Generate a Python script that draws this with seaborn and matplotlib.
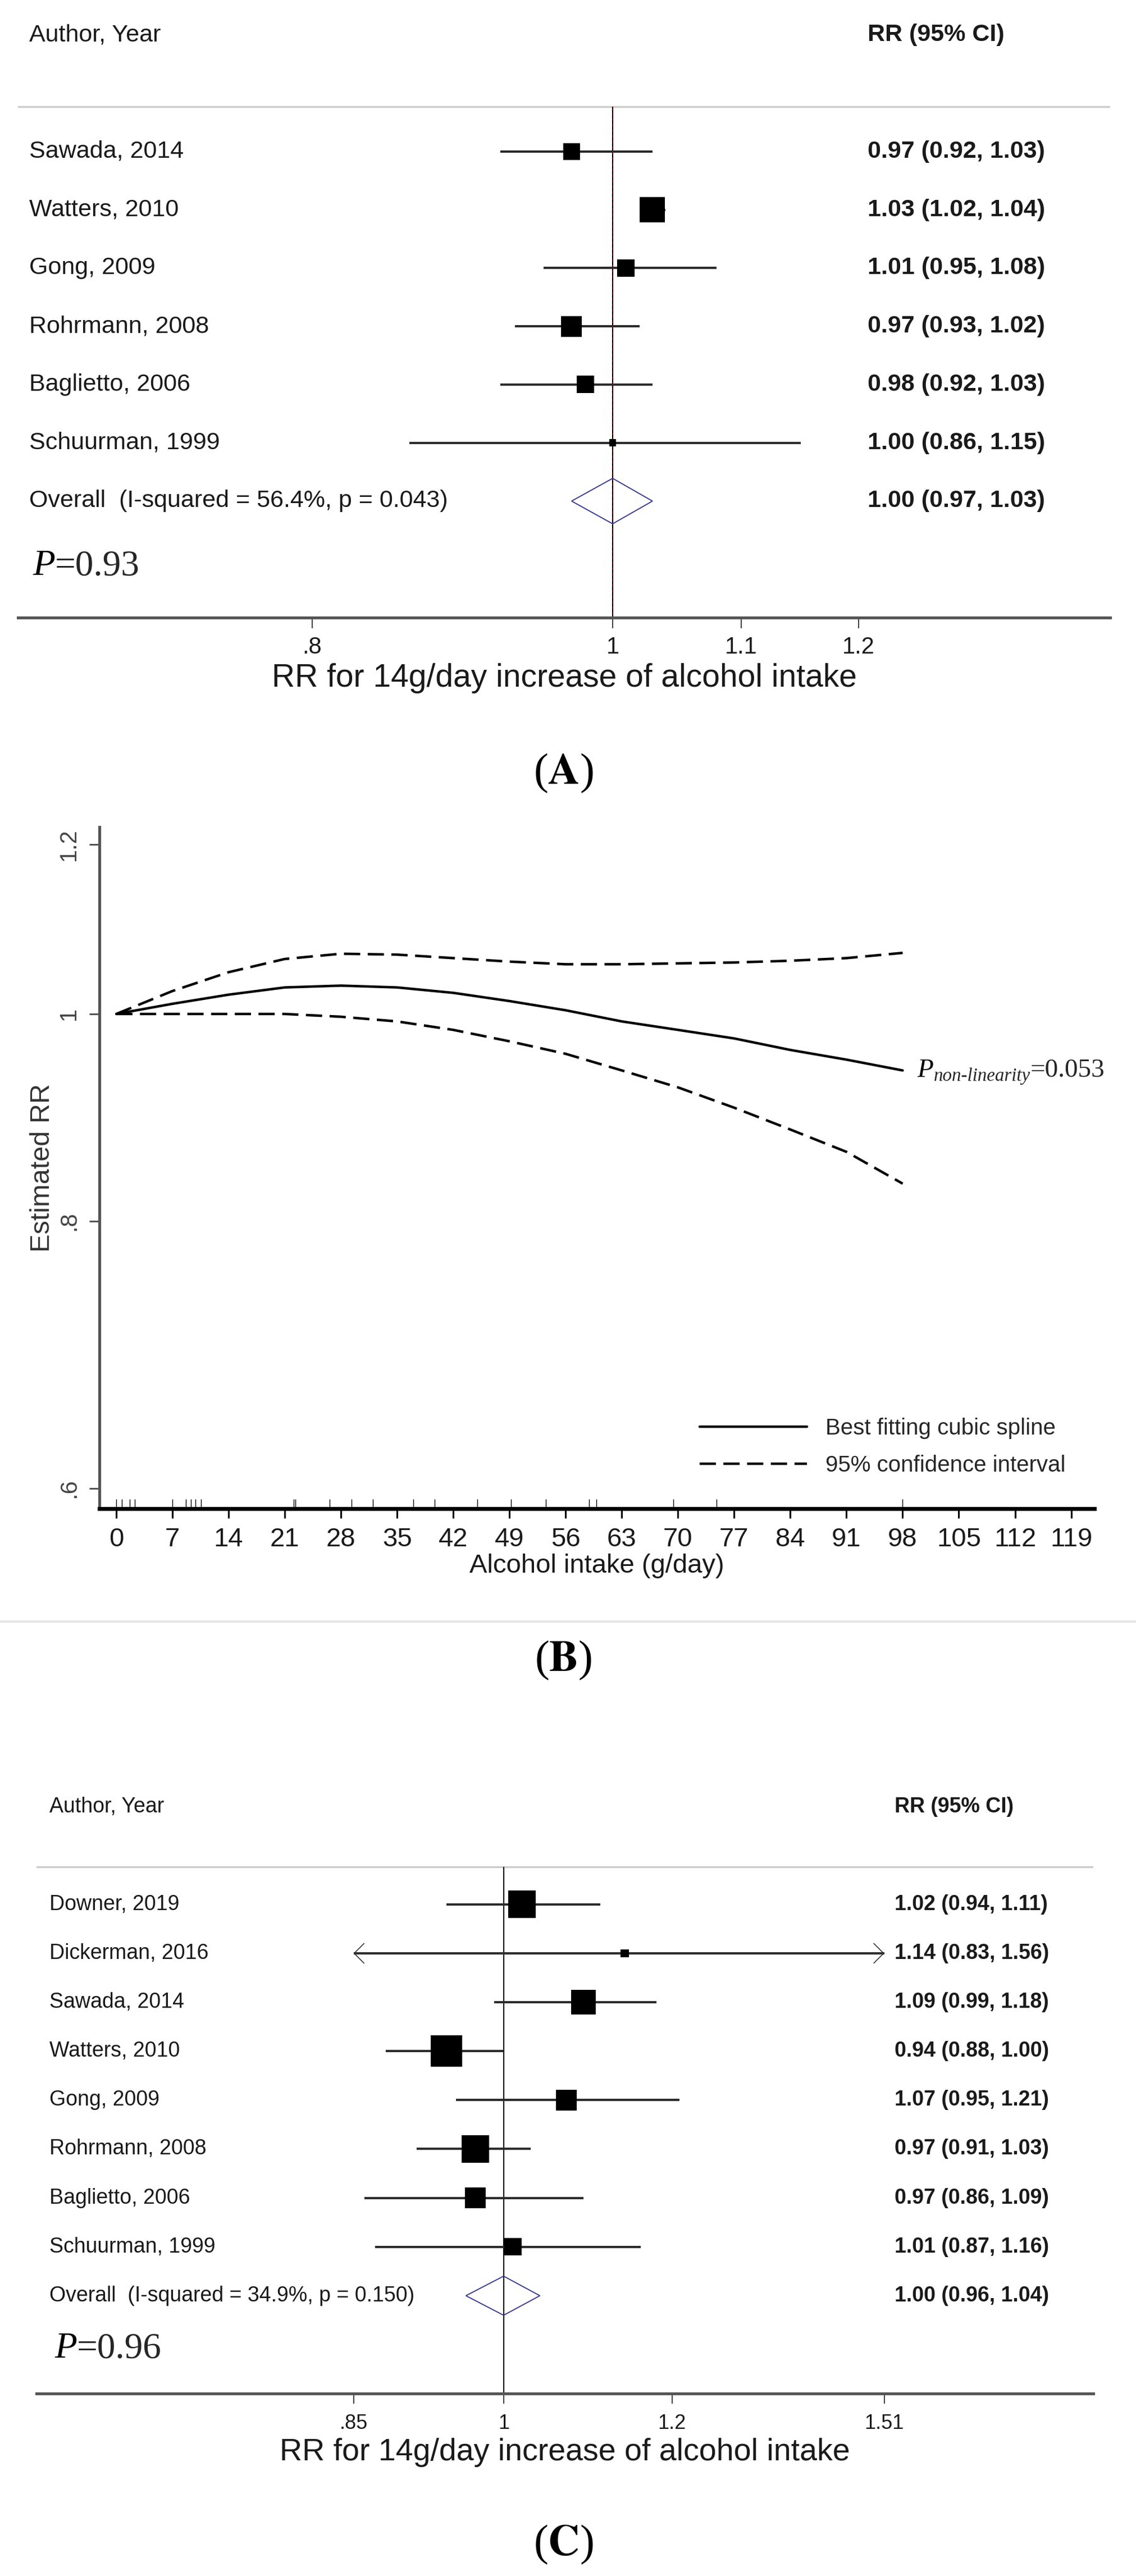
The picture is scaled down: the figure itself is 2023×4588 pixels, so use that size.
import matplotlib
matplotlib.use('Agg')
import matplotlib.pyplot as plt
import matplotlib.transforms as mtransforms
from matplotlib.lines import Line2D
from matplotlib.ticker import NullLocator
import numpy as np
import seaborn as sns

# ---------------- data: (A) linear dose-response, 14 g/day ----------------
a_studies = ['Sawada, 2014', 'Watters, 2010', 'Gong, 2009', 'Rohrmann, 2008',
             'Baglietto, 2006', 'Schuurman, 1999']
a_rr = [0.97, 1.03, 1.01, 0.97, 0.98, 1.00]
a_lo = [0.92, 1.02, 0.95, 0.93, 0.92, 0.86]
a_hi = [1.03, 1.04, 1.08, 1.02, 1.03, 1.15]
a_weight = [14.1, 31.7, 15.1, 21.4, 15.1, 2.6]
a_overall = [1.00, 0.97, 1.03]
a_isq = '56.4%'
a_phet = '0.043'
a_p = '0.93'
a_ticks = [0.8, 1, 1.1, 1.2]
a_ticklabels = ['.8', '1', '1.1', '1.2']

# ---------------- data: (B) non-linear dose-response ----------------
b_x = [0, 7, 14, 21, 28, 35, 42, 49, 56, 63, 70, 77, 84, 91, 98]
b_fit = [1.000, 1.011, 1.021, 1.029, 1.031, 1.029, 1.023, 1.014, 1.004,
         0.992, 0.983, 0.974, 0.962, 0.952, 0.941]
b_upper = [1.000, 1.025, 1.046, 1.061, 1.067, 1.066, 1.062, 1.058, 1.055,
           1.055, 1.056, 1.057, 1.059, 1.062, 1.068]
b_lower = [1.000, 1.000, 1.000, 1.000, 0.997, 0.992, 0.983, 0.971, 0.958,
           0.941, 0.924, 0.904, 0.883, 0.862, 0.833]
b_rug = [0, 0.7, 1.7, 2.3, 7.0, 8.7, 9.3, 9.9, 10.6, 22.1, 22.3, 26.6, 29.3,
         32.0, 37.0, 39.7, 45.0, 49.2, 53.5, 58.9, 59.8, 69.4, 74.8, 98.0]
b_xticks = list(range(0, 120, 7))
b_yticks = [0.6, 0.8, 1, 1.2]
b_yticklabels = ['.6', '.8', '1', '1.2']
b_p_nonlin = '0.053'

# ---------------- data: (C) linear dose-response, 8 studies ----------------
c_studies = ['Downer, 2019', 'Dickerman, 2016', 'Sawada, 2014', 'Watters, 2010',
             'Gong, 2009', 'Rohrmann, 2008', 'Baglietto, 2006', 'Schuurman, 1999']
c_rr = [1.02, 1.14, 1.09, 0.94, 1.07, 0.97, 0.97, 1.01]
c_lo = [0.94, 0.83, 0.99, 0.88, 0.95, 0.91, 0.86, 0.87]
c_hi = [1.11, 1.56, 1.18, 1.00, 1.21, 1.03, 1.09, 1.16]
c_weight = [17.4, 1.6, 14.0, 22.7, 9.9, 17.4, 9.9, 7.0]
c_overall = [1.00, 0.96, 1.04]
c_isq = '34.9%'
c_phet = '0.150'
c_p = '0.96'
c_ticks = [0.85, 1, 1.2, 1.51]
c_ticklabels = ['.85', '1', '1.2', '1.51']

x_title = 'RR for 14g/day increase of alcohol intake'

# ---------------- figure ----------------
W, H = 2024, 4588
sns.set_style('white')
plt.rcParams['font.family'] = ['Liberation Sans', 'DejaVu Sans']
plt.rcParams['mathtext.fontset'] = 'stix'
SERIF = ['Liberation Serif', 'DejaVu Serif']

fig = plt.figure(figsize=(W / 100, H / 100), dpi=100)


def box(left, top, right, bottom):
    return [left / W, 1 - bottom / H, (right - left) / W, (bottom - top) / H]


def pt(v):
    # pixels -> points at 100 dpi
    return v * 0.72


def p_label(ax, x, y, value, size, transform, sub=None):
    t = ax.text(x, y, 'P', transform=transform, fontsize=size, family=SERIF,
                style='italic', va='center', color='black')
    last = t
    if sub:
        last = ax.annotate(sub, xy=(1, 0), xycoords=t, xytext=(0.5, -3),
                           textcoords='offset points', fontsize=size * 0.7,
                           family=SERIF, style='italic', va='bottom')
    ax.annotate('=' + value, xy=(1, 0), xycoords=(last, t), fontsize=size,
                family=SERIF, va='bottom')


def forest(ax, studies, rr, lo, hi, weight, overall, isq, phet, p, ticks,
           ticklabels, xlim, ylim, box_k, dh, fs, fs_tick, fs_title,
           x_name, x_rr, x_p, p_row, pads, es_line=False):
    n = len(studies)
    rows = list(range(n))
    rule = -0.77
    ax.set_xscale('log')
    ax.patch.set_alpha(0)

    ax.axhline(rule, color='#cccccc', lw=2.5, zorder=1)
    ax.vlines(1, rule, ylim[0], color='black', lw=1.5, zorder=1)

    for r, l, h in zip(rows, lo, hi):
        lc, hc = max(l, ticks[0]), min(h, ticks[-1])
        ax.hlines(r, lc, hc, color='#2b2b2b', lw=2.9, zorder=2)
        if lc > l or hc < h:
            style = ('<' if lc > l else '') + '-' + ('>' if hc < h else '')
            ax.annotate('', xy=(hc, r), xytext=(lc, r),
                        arrowprops=dict(arrowstyle=style + ',head_length=0.45,head_width=0.45',
                                        lw=1.2, color='#333333', shrinkA=0,
                                        shrinkB=0, mutation_scale=28))

    sizes = [pt(box_k * np.sqrt(w)) ** 2 for w in weight]
    sns.scatterplot(x=rr, y=rows, marker='s', s=sizes, color='black',
                    linewidth=0, ax=ax, legend=False, zorder=3)

    es, dlo, dhi = overall
    ax.fill([dlo, es, dhi, es], [n, n - dh, n, n + dh], facecolor='none',
            edgecolor='#3a3a92', lw=1.4, zorder=3)
    if es_line:
        ax.vlines(es, rule, ylim[0], color='#6e1414', lw=0.9,
                  linestyles=(0, (4, 4)), zorder=2)

    tr = mtransforms.blended_transform_factory(ax.transAxes, ax.transData)
    txt = dict(transform=tr, va='center', fontsize=fs, color='#1a1a1a')
    ax.text(x_name, -2, 'Author, Year', **txt)
    ax.text(x_rr, -2, 'RR (95% CI)', fontweight='bold', **txt)
    for r, name, v, l, h in zip(rows, studies, rr, lo, hi):
        ax.text(x_name, r, name, **txt)
        ax.text(x_rr, r, f'{v:.2f} ({l:.2f}, {h:.2f})', fontweight='bold', **txt)
    ax.text(x_name, n, f'Overall  (I-squared = {isq}, p = {phet})', **txt)
    ax.text(x_rr, n, f'{es:.2f} ({dlo:.2f}, {dhi:.2f})', fontweight='bold', **txt)

    p_label(ax, x_p, p_row, p, 47, tr)

    for s in ['top', 'left', 'right']:
        ax.spines[s].set_visible(False)
    ax.spines['bottom'].set_color('#555555')
    ax.spines['bottom'].set_linewidth(3.6)
    ax.set_yticks([])
    ax.set_xticks(ticks)
    ax.set_xticklabels(ticklabels)
    ax.xaxis.set_minor_locator(NullLocator())
    ax.tick_params(axis='x', bottom=True, direction='out', length=pads[0],
                   width=1.5, color='#444444', pad=pads[1],
                   labelsize=fs_tick, labelcolor='#1a1a1a')
    ax.set_xlabel(x_title, fontsize=fs_title, labelpad=pads[2], color='#1a1a1a')
    ax.set_xlim(*xlim)
    ax.set_ylim(*ylim)


# (A)
ax_a = fig.add_axes(box(32, 0, 1977, 1100))
forest(ax_a, a_studies, a_rr, a_lo, a_hi, a_weight, a_overall, a_isq, a_phet,
       a_p, a_ticks, a_ticklabels, xlim=(0.6432, 1.4466), ylim=(8.0, -2.6),
       box_k=8.0, dh=0.39, fs=31, fs_tick=30, fs_title=41,
       x_name=0.0103, x_rr=0.778, x_p=0.0134, p_row=7.12, pads=(14, 10, 5.5),
       es_line=True)

# (C)
ax_c = fig.add_axes(box(65, 3080, 1947, 4263))
forest(ax_c, c_studies, c_rr, c_lo, c_hi, c_weight, c_overall, c_isq, c_phet,
       c_p, c_ticks, c_ticklabels, xlim=(0.6031, 1.8934), ylim=(10.0, -3.58),
       box_k=11.75, dh=0.40, fs=27, fs_tick=26, fs_title=40,
       x_name=0.0122, x_rr=0.812, x_p=0.017, p_row=9.09, pads=(13, 13, 6))

# (B)
ax_b = fig.add_axes(box(177, 1473, 1949, 2687))
dash = (0, (6.5, 3))
sns.lineplot(x=b_x, y=b_fit, color='black', lw=3.2, ax=ax_b,
             label='Best fitting cubic spline')
sns.lineplot(x=b_x, y=b_upper, color='black', lw=3.2, linestyle=dash, ax=ax_b,
             label='95% confidence interval')
sns.lineplot(x=b_x, y=b_lower, color='black', lw=3.2, linestyle=dash, ax=ax_b)
sns.rugplot(x=b_rug, height=0.014, color='black', lw=2.6, ax=ax_b,
            expand_margins=False)
ax_b.set_yscale('log')
ax_b.set_xlim(-2.1, 121.9)
ax_b.set_ylim(0.587, 1.223)
ax_b.set_xticks(b_xticks)
ax_b.set_yticks(b_yticks)
ax_b.set_yticklabels(b_yticklabels, rotation=90, va='center')
ax_b.yaxis.set_minor_locator(NullLocator())
ax_b.tick_params(axis='x', bottom=True, direction='out', length=12, width=2.2,
                 color='black', pad=12, labelsize=34, labelcolor='#1a1a1a')
ax_b.tick_params(axis='y', left=True, direction='out', length=13, width=2.2,
                 color='#555555', pad=11.5, labelsize=30, labelcolor='#444444')
for s in ['top', 'right']:
    ax_b.spines[s].set_visible(False)
ax_b.spines['bottom'].set_color('black')
ax_b.spines['bottom'].set_linewidth(5)
ax_b.spines['left'].set_color('#555555')
ax_b.spines['left'].set_linewidth(3.6)
ax_b.set_xlabel('Alcohol intake (g/day)', fontsize=34, labelpad=2, color='#1a1a1a')
ax_b.set_ylabel('Estimated RR', fontsize=35, labelpad=3.6, color='#333333')

handles, labels = ax_b.get_legend_handles_labels()
ax_b.legend(handles, labels, loc='upper left',
            bbox_to_anchor=(1246 / W, 1 - 2525 / H), bbox_transform=fig.transFigure,
            frameon=False, fontsize=29, handlelength=4.75, handletextpad=0.8,
            labelspacing=0.7, borderpad=0, borderaxespad=0)

p_label(ax_b, b_x[-1] + 1.8, b_fit[-1], b_p_nonlin, 34, ax_b.transData,
        sub='non-linearity')

# light rule under the spline panel
fig.add_artist(Line2D([0, 1], [1 - 2888 / H] * 2, transform=fig.transFigure,
                      color='#e6e6e6', lw=3))

# panel letters
for letter, ypx in [('A', 1377), ('B', 2957), ('C', 4532)]:
    fig.text(1003 / W, 1 - ypx / H, r'($\mathbf{' + letter + '}$)', ha='center',
             va='center', fontsize=56, family=SERIF, color='black')

fig.savefig('out.png', dpi=100)
